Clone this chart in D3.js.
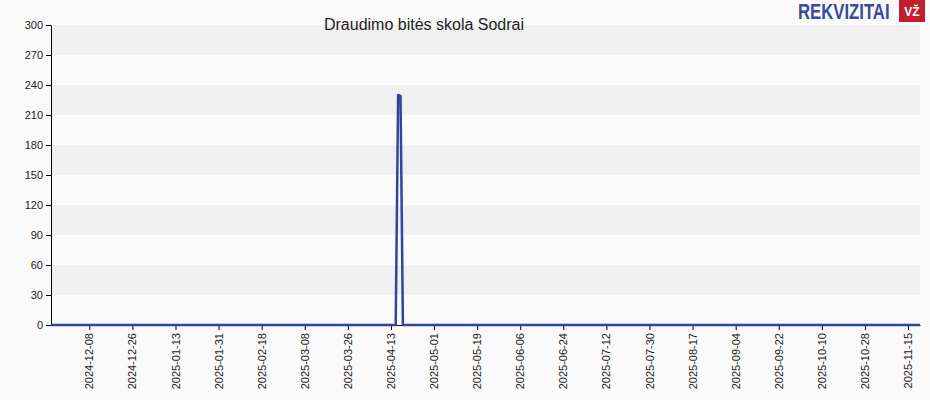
<!DOCTYPE html>
<html><head><meta charset="utf-8">
<script src="https://cdn.jsdelivr.net/npm/d3@7"></script>
<style>body{margin:0;background:#fafafa}svg{font-family:Arial,"Liberation Sans",sans-serif}</style>
</head><body><div class="canvas"></div>
<script>
const dates = ["2024-11-22", "2025-04-15", "2025-04-16", "2025-04-17", "2025-04-18", "2025-11-20"];
const values = [0, 0, 230, 229, 0, 0];
const yTicks = [0, 30, 60, 90, 120, 150, 180, 210, 240, 270, 300];
const xTicks = ["2024-12-08", "2024-12-26", "2025-01-13", "2025-01-31", "2025-02-18", "2025-03-08",
  "2025-03-26", "2025-04-13", "2025-05-01", "2025-05-19", "2025-06-06", "2025-06-24", "2025-07-12",
  "2025-07-30", "2025-08-17", "2025-09-04", "2025-09-22", "2025-10-10", "2025-10-28", "2025-11-15"];

const parse = d3.utcParse("%Y-%m-%d");
const data = dates.map((d, i) => ({ date: parse(d), value: values[i] }));

const svg = d3.select(".canvas").append("svg").attr("width", 930).attr("height", 400);
svg.append("rect").attr("width", 930).attr("height", 400).attr("fill", "#fafafa");

const x = d3.scaleUtc().domain([parse("2024-11-22"), parse("2025-11-20")]).range([51, 920]);
const y = d3.scaleLinear().domain([0, 300]).range([325, 25]);

// bands
const bands = svg.append("g");
for (let i = 0; i < yTicks.length - 1; i++) {
  bands.append("rect")
    .attr("x", 51).attr("width", 869)
    .attr("y", y(yTicks[i + 1])).attr("height", y(yTicks[i]) - y(yTicks[i + 1]))
    .attr("fill", i % 2 === 1 ? "#f0f0f0" : "#fafafa");
}

// y axis
const yAxis = svg.append("g").attr("transform", "translate(51,0)")
  .call(d3.axisLeft(y).tickValues(yTicks).tickSize(5).tickSizeOuter(0));
yAxis.selectAll("text").attr("font-size", 11).attr("fill", "#222");
yAxis.select(".domain").attr("stroke", "#000");

// x axis
const xAxis = svg.append("g").attr("transform", "translate(0,325)")
  .call(d3.axisBottom(x).tickValues(xTicks.map(parse)).tickFormat(d3.utcFormat("%Y-%m-%d")).tickSize(5).tickSizeOuter(0));
xAxis.select(".domain").attr("stroke", "#000");
xAxis.selectAll("text")
  .attr("font-size", 11).attr("fill", "#222")
  .attr("transform", "rotate(-90)")
  .attr("text-anchor", "end")
  .attr("y", 0).attr("x", -8).attr("dy", "0.32em");

// line
const line = d3.line().x(d => x(d.date)).y(d => y(d.value));
svg.append("path").datum(data)
  .attr("d", line).attr("fill", "none")
  .attr("stroke", "#33449a").attr("stroke-width", 2.5).attr("stroke-linejoin", "round");

// title
svg.append("text").attr("x", 424).attr("y", 30).attr("text-anchor", "middle")
  .attr("font-size", 16).attr("fill", "#222").text("Draudimo bitės skola Sodrai");

// logo
svg.append("text").attr("transform", "translate(798,19) scale(0.76,1)")
  .attr("font-size", 22).attr("font-weight", "bold")
  .attr("fill", "#3a4a9c").text("REKVIZITAI");
svg.append("rect").attr("x", 899).attr("y", 0).attr("width", 26).attr("height", 22).attr("fill", "#c0202e");
svg.append("text").attr("x", 912).attr("y", 16).attr("text-anchor", "middle").attr("font-size", 12)
  .attr("font-weight", "bold").attr("fill", "#fff").text("VŽ");
</script></body></html>
